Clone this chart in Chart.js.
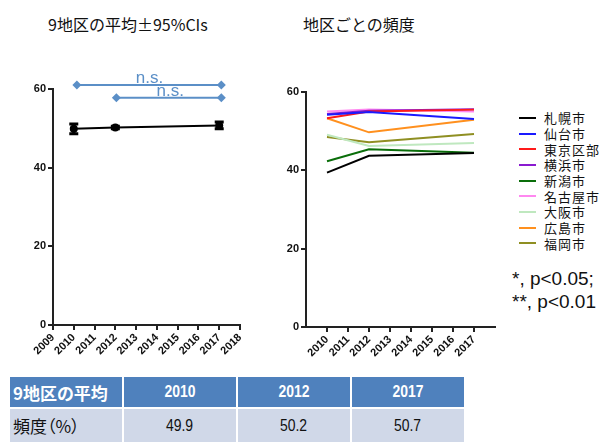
<!DOCTYPE html>
<html>
<head>
<meta charset="utf-8">
<script src="https://cdn.jsdelivr.net/npm/chart.js@4.4.1/dist/chart.umd.min.js"></script>
<style>
  body { margin:0; width:614px; height:442px; position:relative; background:#fff; overflow:hidden;
         font-family:"Noto Sans CJK JP","Liberation Sans",sans-serif; }
  .title { position:absolute; top:12px; font-size:16px; line-height:24px; color:#111; white-space:nowrap; }
  #leftWrap { position:absolute; left:0; top:40px; width:260px; height:320px; }
  #rightWrap { position:absolute; left:260px; top:40px; width:240px; height:320px; }
  #legend { position:absolute; left:519px; top:110px; }
  .lg { height:15.7px; display:flex; align-items:center; font-size:13px; letter-spacing:1px; color:#111; white-space:nowrap; }
  .lg i { display:inline-block; width:17px; height:2px; margin-right:8px; }
  #pnote { position:absolute; left:512px; top:267px; font-family:"Liberation Sans",sans-serif;
           font-size:19px; line-height:23px; color:#111; white-space:nowrap; }
  #tbl { position:absolute; left:10px; top:377px; display:grid;
         grid-template-columns:112px 112px 112px 112px; grid-template-rows:30px 33px; gap:2px; }
  #tbl div { display:flex; align-items:center; justify-content:center; white-space:nowrap;
             font-family:"Liberation Sans",sans-serif; font-size:17px; }
  #tbl div span { display:inline-block; transform:scaleX(0.82); }
  #tbl .h { background:#4f81bd; color:#fff; font-weight:bold; }
  #tbl .r { background:#d0d8e8; color:#111; }
  #tbl .first { justify-content:flex-start; padding-left:3px; font-family:"Noto Sans CJK JP",sans-serif;
                font-size:17px; font-feature-settings:"palt"; }
  #tbl .first span { transform:none; }
</style>
</head>
<body>
<div class="title" style="left:48px">9地区の平均±95%CIs</div>
<div class="title" style="left:303px">地区ごとの頻度</div>
<div id="leftWrap"><canvas id="meanChart" width="260" height="320"></canvas></div>
<div id="rightWrap"><canvas id="cityChart" width="240" height="320"></canvas></div>
<div id="legend"></div>
<div id="pnote">*, p&lt;0.05;<br>**, p&lt;0.01</div>
<div id="tbl"></div>

<script>
// Survey years and the 9-area mean with its 95% CI
const years = [2010, 2012, 2017];
const means = [49.9, 50.2, 50.7];
const ciLow = [48.6, 49.9, 49.9];
const ciHigh = [51.1, 50.5, 51.6];

// Pairwise comparisons shown as brackets above the mean line
const bracketFrom = [2010, 2012];
const bracketTo = [2017, 2017];
const bracketLevel = [61.0, 57.8];
const bracketText = ["n.s.", "n.s."];

// Frequency by city
const cities = ["札幌市", "仙台市", "東京区部", "横浜市", "新潟市", "名古屋市", "大阪市", "広島市", "福岡市"];
const sapporo  = [39.4, 43.7, 44.4];
const sendai   = [54.2, 54.9, 53.1];
const tokyo    = [53.3, 55.0, 55.5];
const yokohama = [54.4, 55.2, 55.6];
const niigata  = [42.3, 45.4, 44.5];
const nagoya   = [55.0, 55.5, 55.0];
const osaka    = [49.1, 46.2, 47.0];
const hiroshima= [53.3, 49.7, 52.9];
const fukuoka  = [48.5, 47.2, 49.3];
const cityValues = [sapporo, sendai, tokyo, yokohama, niigata, nagoya, osaka, hiroshima, fukuoka];
const cityColors = ["#000000", "#1a1aff", "#ff1a1a", "#8a1ad0", "#0a6e0a", "#ff88f0", "#bfe8bf", "#ff901e", "#8f8f22"];

// Table rows
const tableHead = "9地区の平均";
const tableRowLabel = "頻度（%）";

const yTickFont = { family: "'Liberation Sans', Arial, sans-serif", size: 11, weight: "bold" };
const xTickFont = { family: "'Liberation Sans', Arial, sans-serif", size: 11, weight: "bold" };
const nsColor = "#5b8fc7";

function yScale(width) {
  return {
    min: 0, max: 60,
    ticks: { stepSize: 20, color: "#111", font: yTickFont, padding: 2 },
    grid: { drawOnChartArea: false, drawTicks: true, tickLength: 5, color: "#222", lineWidth: 2 },
    border: { color: "#222", width: 2 },
    afterFit(s) { s.width = width; }
  };
}
function xScale(height, hideEnds) {
  return {
    type: "linear", min: 2009, max: 2018,
    ticks: {
      stepSize: 1, color: "#111", font: xTickFont, padding: 1,
      minRotation: 45, maxRotation: 45, autoSkip: false,
      callback: v => (hideEnds && (v === 2009 || v === 2018)) ? null : String(v)
    },
    grid: { drawOnChartArea: false, drawTicks: true, tickLength: 5, color: "#222", lineWidth: 2 },
    border: { color: "#222", width: 2 },
    afterFit(s) { s.height = height; }
  };
}

// Vertical CI bars with caps, drawn through the chart scales
const errorBars = {
  id: "errorBars",
  afterDatasetsDraw(chart) {
    const { ctx, scales: { x, y } } = chart;
    ctx.save();
    ctx.strokeStyle = "#000";
    ctx.lineWidth = 3;
    years.forEach((yr, i) => {
      const px = x.getPixelForValue(yr);
      const lo = y.getPixelForValue(ciLow[i]);
      const hi = y.getPixelForValue(ciHigh[i]);
      ctx.beginPath();
      ctx.moveTo(px, lo); ctx.lineTo(px, hi);
      ctx.moveTo(px - 4.5, lo); ctx.lineTo(px + 4.5, lo);
      ctx.moveTo(px - 4.5, hi); ctx.lineTo(px + 4.5, hi);
      ctx.stroke();
    });
    ctx.restore();
  }
};

// "n.s." labels over the comparison brackets
const bracketLabels = {
  id: "bracketLabels",
  afterDatasetsDraw(chart) {
    const { ctx, scales: { x, y } } = chart;
    ctx.save();
    ctx.fillStyle = nsColor;
    ctx.font = "17px 'Liberation Sans', Arial, sans-serif";
    ctx.textAlign = "center";
    ctx.textBaseline = "alphabetic";
    bracketText.forEach((t, i) => {
      const cx = (x.getPixelForValue(bracketFrom[i]) + x.getPixelForValue(bracketTo[i])) / 2 + 3;
      const cy = y.getPixelForValue(bracketLevel[i]) - 2;
      ctx.fillText(t, cx, cy);
    });
    ctx.restore();
  }
};

const meanDatasets = [{
  data: years.map((yr, i) => ({ x: yr, y: means[i] })),
  borderColor: "#000", backgroundColor: "#000", borderWidth: 2,
  pointRadius: 4, pointBackgroundColor: "#000", pointBorderWidth: 0
}];
bracketFrom.forEach((f, i) => {
  meanDatasets.push({
    data: [{ x: f + (i === 0 ? 0.15 : 0.05), y: bracketLevel[i] }, { x: bracketTo[i] + 0.1, y: bracketLevel[i] }],
    borderColor: nsColor, backgroundColor: nsColor, borderWidth: 2,
    pointStyle: "rectRot", pointRadius: 4.5, pointBorderWidth: 0, clip: false
  });
});

new Chart(document.getElementById("meanChart"), {
  type: "line",
  data: { datasets: meanDatasets },
  options: {
    responsive: false, animation: false,
    layout: { padding: { top: 49, right: 20, left: 0, bottom: 0 } },
    plugins: { legend: { display: false }, tooltip: { enabled: false } },
    scales: { x: xScale(35, false), y: yScale(53) }
  },
  plugins: [errorBars, bracketLabels]
});

new Chart(document.getElementById("cityChart"), {
  type: "line",
  data: {
    datasets: cities.map((c, i) => ({
      label: c,
      data: years.map((yr, j) => ({ x: yr, y: cityValues[i][j] })),
      borderColor: cityColors[i], backgroundColor: cityColors[i],
      borderWidth: 2, pointRadius: 0
    }))
  },
  options: {
    responsive: false, animation: false,
    layout: { padding: { top: 52, right: 5, left: 0, bottom: 0 } },
    plugins: { legend: { display: false }, tooltip: { enabled: false } },
    scales: { x: xScale(33, true), y: yScale(46) }
  }
});

// Legend for the city lines
const legend = document.getElementById("legend");
cities.forEach((c, i) => {
  const row = document.createElement("div");
  row.className = "lg";
  row.innerHTML = `<i style="background:${cityColors[i]}"></i>${c}`;
  legend.appendChild(row);
});

// Summary table of the 9-area mean
const tbl = document.getElementById("tbl");
const cells = [[tableHead, "h first"]].concat(years.map(y => [String(y), "h"]))
  .concat([[tableRowLabel, "r first"]]).concat(means.map(m => [m.toFixed(1), "r"]));
cells.forEach(([t, cls]) => {
  const d = document.createElement("div");
  d.className = cls;
  const s = document.createElement("span");
  s.textContent = t;
  d.appendChild(s);
  tbl.appendChild(d);
});
</script>
</body>
</html>
